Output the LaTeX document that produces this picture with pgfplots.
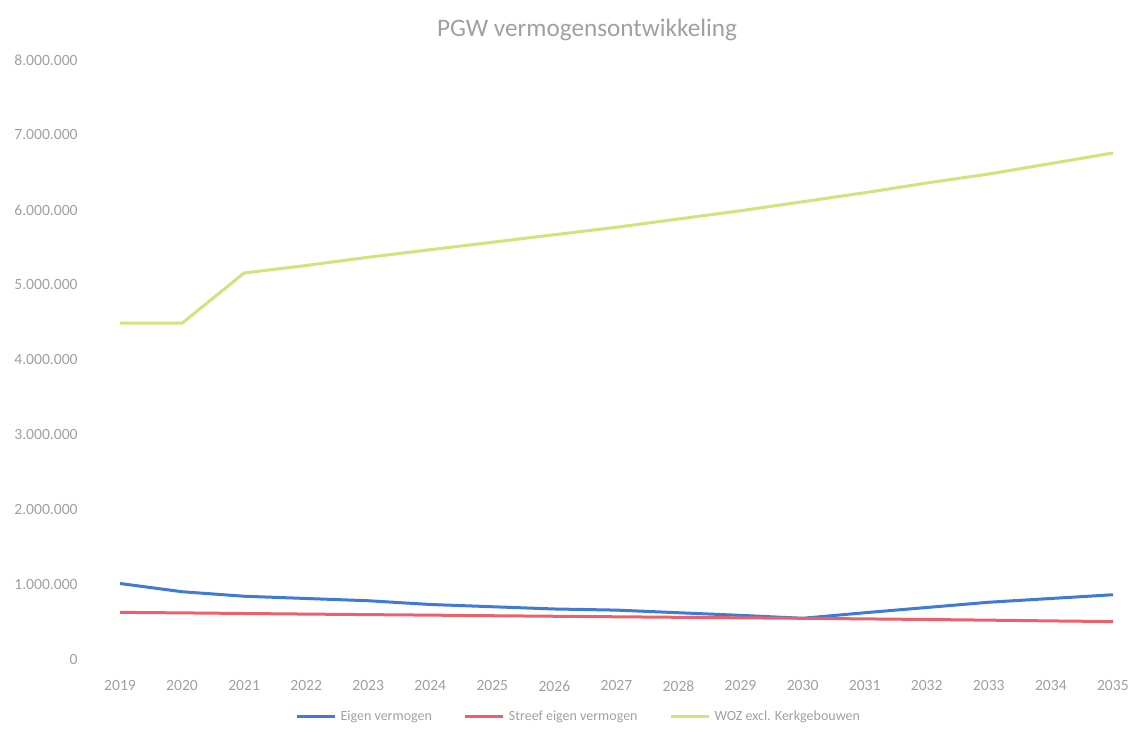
\documentclass[border=0pt]{standalone}
\usepackage{pgfplots}
\pgfplotsset{compat=1.18}
\usepackage{fontspec}
\setmainfont{Carlito}
\definecolor{txtgray}{RGB}{160,160,160}
\definecolor{lblue}{RGB}{62,122,216}
\definecolor{lred}{RGB}{236,96,110}
\definecolor{lgreen}{RGB}{212,226,122}
\begin{document}
\begin{tikzpicture}[x=1pt,y=1pt]
\path (0,0) rectangle (565.5,364);
\node[text=txtgray, font=\fontsize{12.6}{14}\selectfont, anchor=center] at (293.5,349) {PGW vermogensontwikkeling};
\begin{axis}[
  at={(60pt,34pt)}, anchor=south west,
  scale only axis, width=496.5pt, height=300pt,
  xmin=2019, xmax=2035, ymin=0, ymax=8000000,
  axis line style={draw=none},
  xtick={2019,...,2035}, ytick={0,1000000,...,8000000},
  scaled y ticks=false,
  xticklabel style={/pgf/number format/fixed, /pgf/number format/1000 sep={}},
  yticklabel style={/pgf/number format/fixed, /pgf/number format/1000 sep={.}},
  /pgf/number format/assume math mode=true,
  ticklabel style={font=\fontsize{7.8}{9}\selectfont, text=txtgray},
  yticklabel style={anchor=east, inner sep=0pt, xshift=-21pt},
  xticklabel style={anchor=center, inner sep=0pt, yshift=-13pt},
  major tick length=0pt,
  tick style={draw=none},
  hide obscured x ticks=false,
  legend columns=3,
  legend style={draw=none, fill=none, at={(0.463,-0.095)}, anchor=center,
    font=\fontsize{7}{8}\selectfont, text=txtgray,
    /tikz/every even column/.append style={column sep=14pt}},
  legend image code/.code={\draw[#1] (0pt,0pt) -- (19pt,0pt);},
]
\addplot[lblue, line width=1.5pt] coordinates {
(2019,1020000) (2020,910000) (2021,850000) (2022,820000) (2023,790000) (2024,740000)
(2025,710000) (2026,680000) (2027,665000) (2028,630000) (2029,595000) (2030,556000)
(2031,630000) (2032,700000) (2033,770000) (2034,820000) (2035,870000)};
\addlegendentry{Eigen vermogen}
\addplot[lred, line width=1.5pt] coordinates {
(2019,635000) (2020,628000) (2021,620000) (2022,612000) (2023,605000) (2024,598000)
(2025,590000) (2026,583000) (2027,576000) (2028,569000) (2029,562000) (2030,556000)
(2031,548000) (2032,540000) (2033,531000) (2034,521000) (2035,512000)};
\addlegendentry{Streef eigen vermogen}
\addplot[lgreen, line width=1.5pt] coordinates {
(2019,4490000) (2020,4490000) (2021,5160000) (2022,5260000) (2023,5370000) (2024,5470000)
(2025,5570000) (2026,5670000) (2027,5770000) (2028,5880000) (2029,5990000) (2030,6110000)
(2031,6230000) (2032,6360000) (2033,6480000) (2034,6620000) (2035,6760000)};
\addlegendentry{WOZ excl. Kerkgebouwen}
\end{axis}
\end{tikzpicture}
\end{document}
